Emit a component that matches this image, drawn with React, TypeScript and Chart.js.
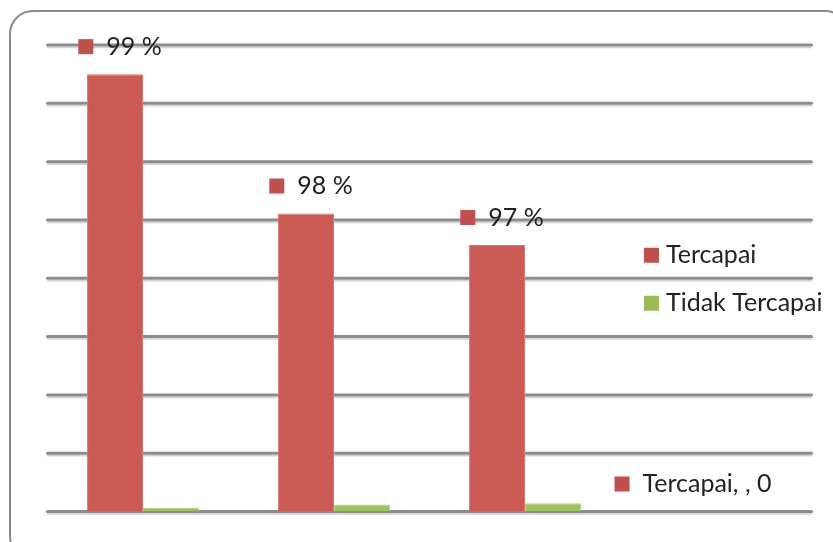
import React, { useEffect, useRef } from "react";
import { Chart, registerables } from "chart.js";

Chart.register(...registerables);

const categories = ["Kategori 1", "Kategori 2", "Kategori 3", ""];
const seriesNames = ["Tercapai", "Tidak Tercapai"];
const tercapai = [750, 511, 457, 0];
const tidakTercapai = [6.5, 12, 14, 0];
const percentLabels = ["99 %", "98 %", "97 %"];
const yMin = 0;
const yMax = 800;
const yStep = 100;

const RED = "#CB5A55";
const RED_MARK = "#C0504D";
const GREEN = "#9FC05F";
const GREEN_MARK = "#9BBB59";
const TEXT = "#222222";
const FONT = "25px Lato";

const gridPlugin = {
  id: "gridShadow",
  beforeDatasetsDraw(chart: any) {
    const { ctx, chartArea, scales } = chart;
    const y = scales.y;
    ctx.save();
    ctx.lineCap = "round";
    y.ticks.forEach((t: any) => {
      const yy = y.getPixelForValue(t.value);
      ctx.strokeStyle = "#d2d2d2";
      ctx.lineWidth = 1.5;
      ctx.beginPath();
      ctx.moveTo(chartArea.left, yy + 2.5);
      ctx.lineTo(chartArea.right, yy + 2.5);
      ctx.stroke();
      ctx.strokeStyle = "#8b8b8b";
      ctx.lineWidth = 3;
      ctx.beginPath();
      ctx.moveTo(chartArea.left, yy);
      ctx.lineTo(chartArea.right, yy);
      ctx.stroke();
    });
    ctx.restore();
  },
};

const labelPlugin = {
  id: "valueLabels",
  afterDatasetsDraw(chart: any) {
    const { ctx } = chart;
    const meta = chart.getDatasetMeta(0);
    ctx.save();
    ctx.font = FONT;
    ctx.textBaseline = "middle";
    meta.data.forEach((el: any, i: number) => {
      const text =
        i < percentLabels.length
          ? percentLabels[i]
          : `${seriesNames[0]}, ${categories[i]}, ${tercapai[i]}`;
      const tw = ctx.measureText(text).width;
      const gw = 15 + 13 + tw;
      const sx = el.x + 5 - gw / 2;
      const cy = el.y - 27.5;
      ctx.fillStyle = RED_MARK;
      ctx.fillRect(sx, cy - 7.5, 15, 15);
      ctx.fillStyle = TEXT;
      ctx.fillText(text, sx + 28, cy);
    });
    ctx.restore();
  },
};

const legendPlugin = {
  id: "innerLegend",
  afterDraw(chart: any) {
    const { ctx, chartArea } = chart;
    const mid = (chartArea.top + chartArea.bottom) / 2;
    const x = chartArea.right - 167.5;
    const ys = [mid - 23, mid + 25];
    const cols = [RED_MARK, GREEN_MARK];
    ctx.save();
    ctx.font = FONT;
    ctx.textBaseline = "middle";
    chart.data.datasets.forEach((ds: any, i: number) => {
      ctx.fillStyle = cols[i];
      ctx.fillRect(x, ys[i] - 7.5, 15, 15);
      ctx.fillStyle = TEXT;
      ctx.fillText(ds.label, x + 22, ys[i]);
    });
    ctx.restore();
  },
};

export default function App() {
  const ref = useRef<HTMLCanvasElement>(null);
  useEffect(() => {
    if (!ref.current) return;
    const chart = new Chart(ref.current, {
      type: "bar",
      data: {
        labels: categories,
        datasets: [
          {
            label: seriesNames[0],
            data: tercapai,
            backgroundColor: RED,
            borderColor: "#D9776F",
            borderWidth: 1,
          },
          {
            label: seriesNames[1],
            data: tidakTercapai,
            backgroundColor: GREEN,
            borderColor: "#B3D07A",
            borderWidth: 1,
          },
        ],
      },
      options: {
        responsive: false,
        animation: false,
        devicePixelRatio: 1,
        layout: { padding: { left: 47.5, right: 21.5, top: 45, bottom: 30.5 } },
        datasets: { bar: { categoryPercentage: 0.586, barPercentage: 1 } },
        plugins: { legend: { display: false }, tooltip: { enabled: false } },
        scales: {
          x: { display: false, offset: true },
          y: { display: false, min: yMin, max: yMax, ticks: { stepSize: yStep } },
        },
      },
      plugins: [gridPlugin, labelPlugin, legendPlugin],
    });
    return () => chart.destroy();
  }, []);

  return (
    <div
      style={{
        position: "absolute",
        left: 0,
        top: 0,
        width: 833,
        height: 542,
        overflow: "hidden",
        background: "#fff",
      }}
    >
      <div
        style={{
          position: "absolute",
          left: 9,
          top: 10,
          width: 840,
          height: 550,
          border: "2px solid #8a8a8a",
          borderRadius: 24,
          boxSizing: "border-box",
        }}
      />
      <canvas
        ref={ref}
        width={833}
        height={542}
        style={{ position: "absolute", left: 0, top: 0 }}
      />
    </div>
  );
}
